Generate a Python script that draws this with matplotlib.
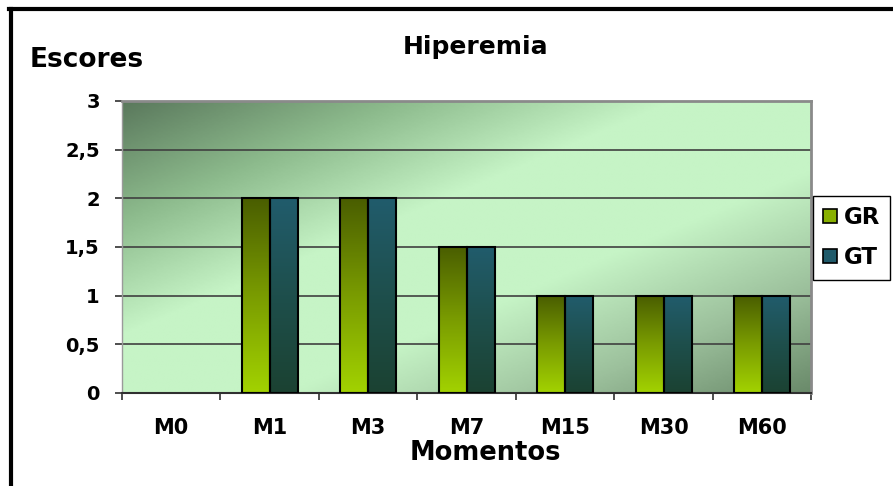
import numpy as np
import matplotlib.pyplot as plt
from matplotlib.colors import LinearSegmentedColormap
from matplotlib.lines import Line2D

momentos = ["M0", "M1", "M3", "M7", "M15", "M30", "M60"]
gr = [0, 2, 2, 1.5, 1, 1, 1]
gt = [0, 2, 2, 1.5, 1, 1, 1]
yticks = [0, 0.5, 1, 1.5, 2, 2.5, 3]
ylabels = ["0", "0,5", "1", "1,5", "2", "2,5", "3"]

plt.rcParams['font.family'] = ['DejaVu Sans']
plt.rcParams['font.weight'] = 'bold'

fig = plt.figure(figsize=(8.93, 4.86), dpi=100)
ax = fig.add_axes([0.1366, 0.1914, 0.772, 0.601])

# diagonal wall gradient: dark top-left, light middle band, darker bottom-right
wall = LinearSegmentedColormap.from_list("wall", [
    (0.0, "#5a785c"), (0.2, "#8cba8c"), (0.4, "#c6f4c6"),
    (0.62, "#c6f4c6"), (0.82, "#9cc09c"), (1.0, "#6a8a6a")])
gx, gy = np.meshgrid(np.linspace(0, 1, 300), np.linspace(1, 0, 200))
ax.imshow((gx + (1 - gy)) / 2, cmap=wall, extent=[0, 1, 0, 1],
          transform=ax.transAxes, aspect='auto', zorder=0, vmin=0, vmax=1)

x = np.arange(len(momentos))
w = 0.285

for yv in yticks[1:-1]:
    ax.axhline(yv, color="#404040", lw=1.2, zorder=1)

cmap_gr = LinearSegmentedColormap.from_list("gr", ["#4a5e00", "#7a9c00", "#a2d200"])
cmap_gt = LinearSegmentedColormap.from_list("gt", ["#215c6c", "#1e4f4c", "#1b4232"])
ramp = np.linspace(0, 1, 100).reshape(-1, 1)

for vals, off, cm in [(gr, -w / 2, cmap_gr), (gt, w / 2, cmap_gt)]:
    bars = ax.bar(x + off, vals, w, facecolor='none', edgecolor='black',
                  lw=1.5, zorder=3)
    for b in bars:
        h = b.get_height()
        if h <= 0:
            b.set_linewidth(0)
            continue
        ax.imshow(ramp, cmap=cm, origin='upper', aspect='auto', zorder=2,
                  extent=[b.get_x(), b.get_x() + b.get_width(), 0, h])

ax.set_xlim(-0.5, len(momentos) - 0.5)
ax.set_ylim(0, 3)

ax.set_xticks(x)
ax.set_xticklabels(momentos, fontsize=15, fontweight='bold')
ax.set_xticks(np.arange(-0.5, len(momentos)), minor=True)
ax.tick_params(axis='x', which='major', length=0, pad=18)
ax.tick_params(axis='x', which='minor', length=5, width=1.2, color="#303030",
               direction='out')
ax.set_yticks(yticks)
ax.set_yticklabels(ylabels, fontsize=14, fontweight='bold')
ax.tick_params(axis='y', length=5, width=1.2, color="#303030", pad=11)

ax.spines['top'].set_color("#8a8a8a")
ax.spines['top'].set_linewidth(2)
ax.spines['right'].set_color("#8a8a8a")
ax.spines['right'].set_linewidth(2)
ax.spines['left'].set_color("#9a9a9a")
ax.spines['left'].set_linewidth(1)
ax.spines['bottom'].set_color("#303030")
ax.spines['bottom'].set_linewidth(1.5)

fig.text(0.533, 0.903, "Hiperemia", ha='center', va='center',
         fontsize=18, fontweight='bold')
fig.text(0.033, 0.877, "Escores", ha='left', va='center',
         fontsize=19, fontweight='bold')
fig.text(0.543, 0.068, "Momentos", ha='center', va='center',
         fontsize=18.5, fontweight='bold')

handles = [Line2D([], [], marker='s', ls='none', markersize=10,
                  markerfacecolor="#88b000", markeredgecolor='black',
                  markeredgewidth=1.2),
           Line2D([], [], marker='s', ls='none', markersize=10,
                  markerfacecolor="#1f5a6a", markeredgecolor='black',
                  markeredgewidth=1.2)]
leg = fig.legend(handles, ["GR", "GT"], loc='center left',
                 bbox_to_anchor=(0.910, 0.511), fancybox=False,
                 edgecolor='black', framealpha=1, borderaxespad=0,
                 handlelength=0.6, handletextpad=0.3, labelspacing=0.75,
                 borderpad=0.45, prop={'size': 16.5, 'weight': 'bold'})
leg.get_frame().set_linewidth(1)

# outer frame: top and left edges only
fig.add_artist(Line2D([0.0105, 1.0], [0.982, 0.982], color='black', lw=3,
                      transform=fig.transFigure))
fig.add_artist(Line2D([0.0125, 0.0125], [0.0, 0.982], color='black', lw=3,
                      transform=fig.transFigure))

fig.savefig("out.png", dpi=100)
